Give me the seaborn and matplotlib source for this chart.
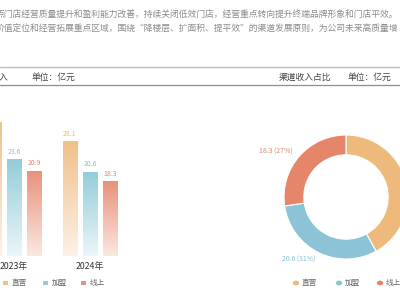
import numpy as np
import pandas as pd
import matplotlib
matplotlib.use("Agg")
import matplotlib.pyplot as plt
from matplotlib.lines import Line2D
from matplotlib.patches import Rectangle, Circle
from matplotlib.colors import to_rgb
import seaborn as sns

# ---------------- data ----------------
years = ["2023年", "2024年"]
channels = ["直营", "加盟", "线上"]
zhiying = [32.7, 28.1]
jiameng = [23.6, 20.6]
xianshang = [20.9, 18.3]
pie_values = [28.1, 20.6, 18.3]

text_line1 = "点门店经营质量提升和盈利能力改善，持续关闭低效门店，经营重点转向提升终端品牌形象和门店平效。"
text_line2 = "价值定位和经营拓展重点区域，围绕“降楼层、扩面积、提平效”的渠道发展原则，为公司未来高质量增"
left_header = "入"
unit_text = "单位：亿元"
right_header = "渠道收入占比"

# ---------------- style ----------------
sns.set_style("white")
plt.rcParams["font.family"] = ["Noto Sans CJK SC", "DejaVu Sans"]

top_colors = ["#F1C08A", "#93CCDB", "#E9917B"]
bottom_colors = ["#FDF1E7", "#EBF6F9", "#FBE8E2"]
label_colors = ["#EDB577", "#86C3D6", "#E0866C"]
pie_colors = ["#EDBA7C", "#8DC3D6", "#E5866A"]

W, H = 400, 300
fig = plt.figure(figsize=(4, 3), dpi=100)
fig.patch.set_facecolor("white")

def fx(x):
    return x / W

def fy(y):
    return 1 - y / H

# ---------------- top paragraph ----------------
fig.text(fx(-4.5), fy(14), text_line1, fontsize=6.35, color="#8c8c8c", va="center", ha="left")
fig.text(fx(-4.5), fy(29), text_line2, fontsize=6.35, color="#8c8c8c", va="center", ha="left")

# header rules
fig.add_artist(Line2D([0, 1], [fy(67), fy(67)], color="#bdbdbd", lw=1.0))
fig.add_artist(Line2D([0, 1], [fy(85), fy(85)], color="#8e8e8e", lw=0.9))
fig.text(fx(-1), fy(77), left_header, fontsize=6.3, color="#444444", va="center", ha="left")
fig.text(fx(31), fy(77), unit_text, fontsize=6.3, color="#444444", va="center", ha="left")
fig.text(fx(279), fy(77), right_header, fontsize=6.3, color="#444444", va="center", ha="left")
fig.text(fx(348), fy(77), unit_text, fontsize=6.3, color="#444444", va="center", ha="left")

# ---------------- bar chart ----------------
df = pd.DataFrame({
    "year": years * 3,
    "channel": [channels[0]] * 2 + [channels[1]] * 2 + [channels[2]] * 2,
    "value": zhiying + jiameng + xianshang,
})

ax = fig.add_axes([0, fy(256), 0.5, (256 - 95) / H])
sns.barplot(data=df, x="year", y="value", hue="channel", hue_order=channels,
            order=years, width=0.79, gap=0.3, palette=top_colors,
            legend=False, ax=ax, errorbar=None)
ax.set_xlim(-14 / 76, (200 - 14) / 76)
ax.set_ylim(0, (256 - 95) / 4.09)

for i, cont in enumerate(ax.containers):
    c_top = np.array(to_rgb(top_colors[i]))
    c_bot = np.array(to_rgb(bottom_colors[i]))
    grad = np.linspace(0, 1, 128)[:, None]
    img = c_bot[None, :] * (1 - grad[..., None]) + c_top[None, :] * grad[..., None]
    img = img.reshape(128, 1, 3)
    for p in cont.patches:
        x0, y0 = p.get_x(), p.get_y()
        w, h = p.get_width(), p.get_height()
        im = ax.imshow(img, extent=[x0, x0 + w, y0, y0 + h], origin="lower",
                       aspect="auto", zorder=p.get_zorder(), interpolation="bilinear")
        im.set_clip_path(p)
        p.set_facecolor("none")
        p.set_edgecolor("none")
    ax.bar_label(cont, labels=[f"{v:.1f}" for v in cont.datavalues],
                 padding=2.5, fontsize=5, color=label_colors[i])

ax.set_xlim(-14 / 76, (200 - 14) / 76)
ax.set_ylim(0, (256 - 95) / 4.09)
ax.set_xlabel("")
ax.set_ylabel("")
ax.set_yticks([])
ax.tick_params(axis="x", length=0, pad=4.5, labelsize=6.3, labelcolor="#333333")
for s in ax.spines.values():
    s.set_visible(False)
ax.set_facecolor("none")

# bar legend
bar_leg_x = [5, 45, 83]
for i, ch in enumerate(channels):
    fig.add_artist(Rectangle((fx(bar_leg_x[i] - 2), fy(285)), 4.5 / W, 4.5 / H,
                             transform=fig.transFigure, color=top_colors[i], lw=0))
    fig.text(fx(bar_leg_x[i] + 7), fy(283), ch, fontsize=5.5, color="#666666",
             va="center", ha="left")

# ---------------- donut ----------------
R = 62
cx, cy = 346, 197
axp = fig.add_axes([fx(cx - R), fy(cy + R), 2 * R / W, 2 * R / H])
total = sum(pie_values)
pie_labels = [f"{v} ({round(v / total * 100)}%)" for v in pie_values]
wedges, texts = axp.pie(pie_values, colors=pie_colors, startangle=90,
                        counterclock=False, radius=1,
                        labels=pie_labels, labeldistance=1.13,
                        wedgeprops=dict(width=0.32, edgecolor="white", linewidth=0.8),
                        textprops=dict(fontsize=5))
for t, c in zip(texts, label_colors):
    t.set_color(c)
axp.set_xlim(-1, 1)
axp.set_ylim(-1, 1)
axp.set_aspect("equal")
axp.axis("off")

# donut legend
pie_leg_x = [296, 339, 380]
for i, ch in enumerate(channels):
    fig.add_artist(Circle((fx(pie_leg_x[i]), fy(283)), 3.2 / W,
                          transform=fig.transFigure, color=pie_colors[i], lw=0))
    fig.text(fx(pie_leg_x[i] + 6), fy(283), ch, fontsize=5.5, color="#666666",
             va="center", ha="left")

fig.savefig("out.png", dpi=100, facecolor="white")
